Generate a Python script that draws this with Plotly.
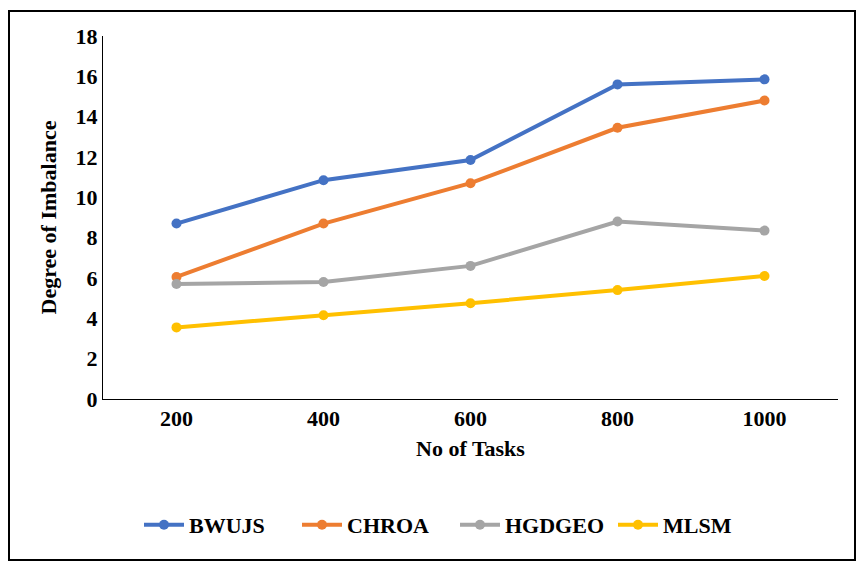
import plotly.graph_objects as go

categories = ["200", "400", "600", "800", "1000"]
bwujs = [8.7, 10.85, 11.85, 15.6, 15.85]
chroa = [6.05, 8.7, 10.7, 13.45, 14.8]
hgdgeo = [5.7, 5.8, 6.6, 8.8, 8.35]
mlsm = [3.55, 4.15, 4.75, 5.4, 6.1]
series_names = ["BWUJS", "CHROA", "HGDGEO", "MLSM"]
colors = ["#4472C4", "#ED7D31", "#A5A5A5", "#FFC000"]

FONT = "Times New Roman, Liberation Serif, DejaVu Serif, serif"
FS = 22

fig = go.Figure()
for name, vals, col in zip(series_names, [bwujs, chroa, hgdgeo, mlsm], colors):
    fig.add_trace(go.Scatter(
        x=categories, y=vals, name=name, mode="lines+markers",
        line=dict(color=col, width=4),
        marker=dict(color=col, size=10),
    ))

# page body has an 8px default margin; size figure to fit the 867x573 window
OFF = 8
W, H = 867 - OFF, 573 - OFF
L, R, T, B = 103 - OFF, 867 - 838, 36 - OFF, 573 - 399
pw = W - L - R
ph = H - T - B

def px(xp):
    return (xp - OFF - L) / pw

def py(yp):
    return (H - B - (yp - OFF)) / ph

tf = dict(family=FONT, size=FS, color="black", weight="bold")

fig.update_layout(
    width=W, height=H,
    margin=dict(l=L, r=R, t=T, b=B),
    paper_bgcolor="white", plot_bgcolor="white",
    font=tf,
    showlegend=True,
    legend=dict(orientation="h", x=px(455), xanchor="center", y=py(525), yanchor="middle",
                font=tf, itemwidth=40, tracegroupgap=0,
                entrywidth=103, entrywidthmode="pixels"),
    xaxis=dict(
        type="category", range=[-0.5, 4.5],
        showline=True, linecolor="black", linewidth=1,
        showgrid=False, ticks="", ticklen=0,
        tickfont=tf,
        title=dict(text="No of Tasks", font=tf, standoff=10),
    ),
    yaxis=dict(
        range=[0, 18], dtick=2,
        showline=True, linecolor="black", linewidth=1,
        showgrid=False, ticks="", zeroline=False,
        tickfont=tf,
        title=dict(text="Degree of Imbalance", font=tf, standoff=12),
    ),
)

fig.add_shape(type="rect", xref="paper", yref="paper",
              x0=px(9), x1=px(855), y0=py(560), y1=py(11),
              line=dict(color="black", width=2), fillcolor="rgba(0,0,0,0)", layer="above")

fig.write_html("out.html")
